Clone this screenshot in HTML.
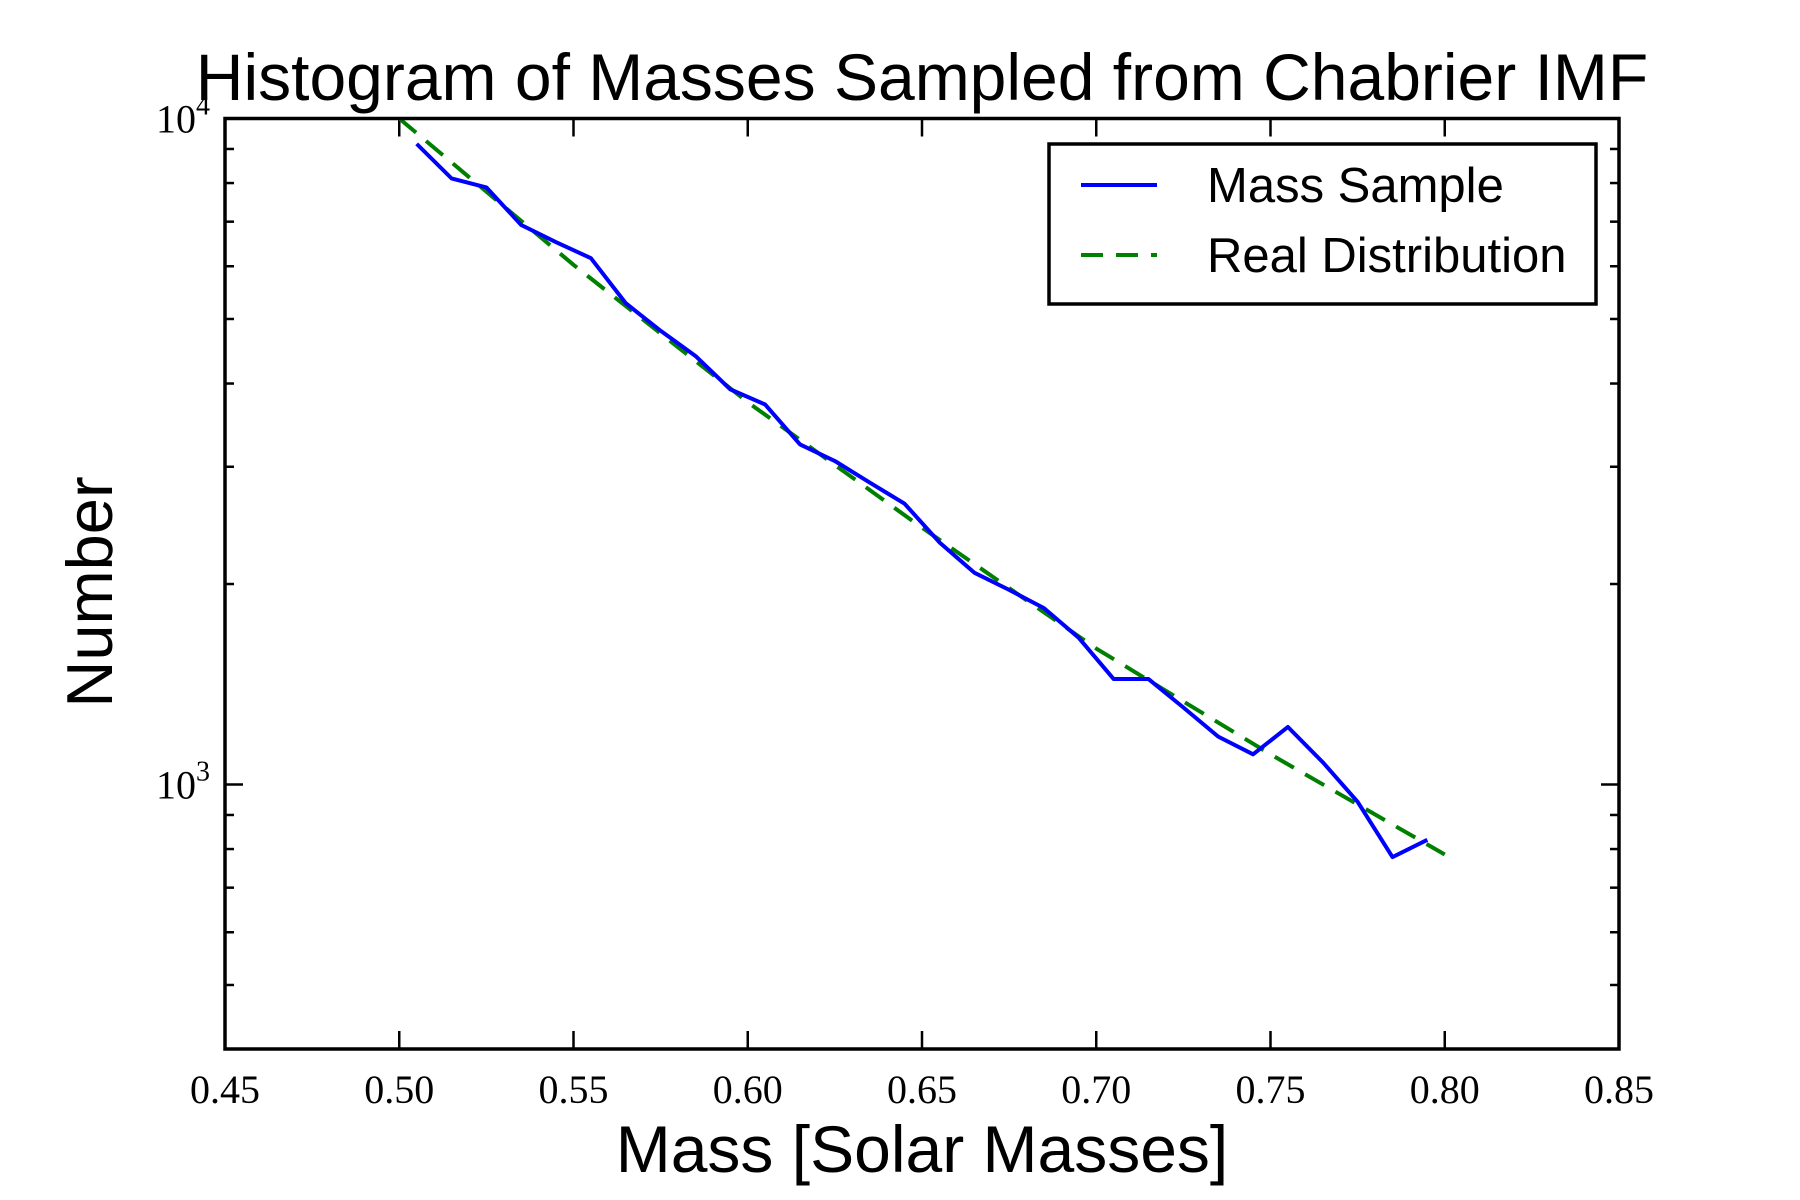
<!DOCTYPE html>
<html><head><meta charset="utf-8"><style>
html,body{margin:0;padding:0;background:#fff;}
svg{display:block;}
.sans{font-family:"Liberation Sans",sans-serif;}
.serif{font-family:"Liberation Serif",serif;}
</style></head><body>
<svg id="chart" width="1800" height="1200" viewBox="0 0 1800 1200">
<rect width="1800" height="1200" fill="#fff"/>
<text class="sans" x="922" y="100" font-size="66" text-anchor="middle">Histogram of Masses Sampled from Chabrier IMF</text>
<text class="sans" x="922" y="1172" font-size="66" text-anchor="middle">Mass [Solar Masses]</text>
<text class="sans" x="0" y="0" font-size="65" text-anchor="middle" transform="translate(112,592) rotate(-90)">Number</text>
<g id="ticks"></g>
<g id="series"></g>
<rect x="225" y="118.5" width="1394" height="930.5" fill="none" stroke="#000" stroke-width="3.5"/>
<g>
<rect x="1049" y="144" width="547" height="160" fill="#fff" stroke="#000" stroke-width="3.5"/>
<line x1="1081" y1="185" x2="1157" y2="185" stroke="#0000ff" stroke-width="4"/>
<text class="sans" x="1207" y="202" font-size="49">Mass Sample</text>
<line x1="1081" y1="255" x2="1157" y2="255" stroke="#008000" stroke-width="4" stroke-dasharray="22,13"/>
<text class="sans" x="1207" y="272" font-size="49">Real Distribution</text>
</g>
</svg>
<script>
const sampleMass=[0.505,0.515,0.525,0.535,0.545,0.555,0.565,0.575,0.585,0.595,0.605,0.615,0.625,0.635,0.645,0.655,0.665,0.675,0.685,0.695,0.705,0.715,0.725,0.735,0.745,0.755,0.765,0.775,0.785,0.795];
const sampleCount=[9160,8130,7880,6920,6520,6170,5280,4800,4400,3920,3720,3240,3060,2840,2640,2310,2080,1960,1840,1660,1440,1440,1305,1180,1110,1220,1080,942,778,826];
const realMass=[0.50,0.55,0.60,0.65,0.70,0.75,0.80];
const realCount=[10000,6030,3750,2430,1600,1110,785];
const xTicks=[0.45,0.50,0.55,0.60,0.65,0.70,0.75,0.80,0.85];
const xTickLabels=["0.45","0.50","0.55","0.60","0.65","0.70","0.75","0.80","0.85"];
const yMajor=[1000,10000];
const yMinor=[400,500,600,700,800,900,2000,3000,4000,5000,6000,7000,8000,9000];

const X0=225,X1=1619,Y0=118.5,Y1=1049;
const xMin=0.45,xMax=0.85,decade=666;
function xs(v){return X0+(v-xMin)/(xMax-xMin)*(X1-X0);}
function ys(v){return Y0+(4-Math.log10(v))*decade;}
const NS="http://www.w3.org/2000/svg";
const tg=document.getElementById('ticks'),sg=document.getElementById('series');
function mk(tag,attrs,parent){const e=document.createElementNS(NS,tag);for(const k in attrs)e.setAttribute(k,attrs[k]);parent.appendChild(e);return e;}
xTicks.forEach((t,i)=>{
  const x=xs(t);
  const a=mk('line',{x1:x,y1:Y1,x2:x,y2:Y1-18,stroke:'#000','stroke-width':2.5},tg);
  
  
  const b=mk('line',{x1:x,y1:Y0,x2:x,y2:Y0+18,stroke:'#000','stroke-width':2.5},tg);
  
  
  const l=mk('text',{x:x,y:1103,'font-size':40,'text-anchor':'middle','class':'serif'},tg);
  l.textContent=xTickLabels[i];
  
  
});
yMajor.forEach(v=>{
  const y=ys(v);
  [[X0,X0+18],[X1,X1-18]].forEach(p=>{
    const t=mk('line',{x1:p[0],y1:y,x2:p[1],y2:y,stroke:'#000','stroke-width':2.5},tg);
    
    
  });
  const l=mk('text',{x:210,y:y+14,'font-size':40,'text-anchor':'end','class':'serif'},tg);
  l.innerHTML='10<tspan dy="-18" font-size="28">'+Math.round(Math.log10(v))+'</tspan>';
  
  
});
yMinor.forEach(v=>{
  const y=ys(v);
  if(y>Y1)return;
  [[X0,X0+9],[X1,X1-9]].forEach(p=>{
    const t=mk('line',{x1:p[0],y1:y,x2:p[1],y2:y,stroke:'#000','stroke-width':2.5},tg);
    
    
  });
});
const real=mk('polyline',{points:realMass.map((m,i)=>xs(m)+','+ys(realCount[i])).join(' '),fill:'none',stroke:'#008000','stroke-width':4,'stroke-dasharray':'22,13'},sg);


const samp=mk('polyline',{points:sampleMass.map((m,i)=>xs(m)+','+ys(sampleCount[i])).join(' '),fill:'none',stroke:'#0000ff','stroke-width':4,'stroke-linejoin':'round'},sg);


</script>
</body></html>
